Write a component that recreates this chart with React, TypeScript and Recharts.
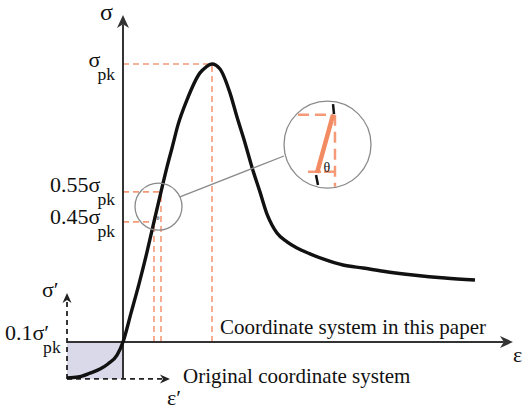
import React from 'react';
import {
  ComposedChart,
  Line,
  XAxis,
  YAxis,
  ReferenceLine,
  ReferenceDot,
  ReferenceArea,
} from 'recharts';

// strain / peak strain, stress / peak stress
const strain = [
  -0.629, -0.506, -0.371, -0.258, -0.169, -0.067, 0, 0.09, 0.18, 0.27, 0.348, 0.427,
  0.494, 0.551, 0.618, 0.719, 0.865, 0.933, 1.0, 1.09, 1.202, 1.281, 1.371, 1.449,
  1.539, 1.618, 1.674, 1.73, 1.843, 1.955, 2.101, 2.247, 2.472, 2.697, 2.978, 3.258,
  3.618, 3.955,
];
const stress = [
  -0.129, -0.126, -0.112, -0.097, -0.079, -0.047, 0, 0.104, 0.209, 0.324, 0.432, 0.54,
  0.629, 0.698, 0.781, 0.871, 0.968, 0.989, 1.0, 0.982, 0.896, 0.809, 0.716, 0.629,
  0.54, 0.46, 0.421, 0.392, 0.36, 0.338, 0.317, 0.299, 0.277, 0.266, 0.252, 0.241,
  0.23, 0.223,
];

// key levels
const peakStrain = 1;
const peakStress = 1;
const upperLevel = 0.54; // 0.55 sigma_pk
const lowerLevel = 0.432; // 0.45 sigma_pk
const upperStrain = 0.427;
const lowerStrain = 0.348;
const oldOrigin = { strain: -0.629, stress: -0.133 };

const labels = [
  { x: -0.258, y: 1.158, main: 'σ', size: 24, anchor: 'start' },
  { x: -0.09, y: 0.989, main: 'σ', sub: 'pk', size: 22, anchor: 'end' },
  { x: -0.09, y: 0.54, main: '0.55σ', sub: 'pk', size: 22, anchor: 'end' },
  { x: -0.09, y: 0.424, main: '0.45σ', sub: 'pk', size: 22, anchor: 'end' },
  { x: -0.7, y: 0.007, main: '0.1σ′', sub: 'pk', size: 22, anchor: 'end' },
  { x: -0.91, y: 0.162, main: 'σ′', size: 22, anchor: 'start' },
  { x: 4.382, y: -0.072, main: 'ε', size: 22, anchor: 'start' },
  { x: 0.494, y: -0.227, main: 'ε′', size: 22, anchor: 'start' },
  { x: 1.09, y: 0.029, main: 'Coordinate system in this paper', size: 21, anchor: 'start' },
  { x: 0.674, y: -0.147, main: 'Original coordinate system', size: 21, anchor: 'start' },
  { x: 2.292, y: 0.612, main: 'θ', size: 14, anchor: 'middle' },
  { x: 0.393, y: 0.439, main: 'θ', size: 6, anchor: 'middle' },
];

const curve = strain.map((e, i) => ({ strain: e, stress: stress[i] }));

const FONT = '"Liberation Serif", "Times New Roman", serif';
const ORANGE = '#f59a78';
const ORANGE_SOLID = '#f28a62';
const AXIS = '#333';

const arrow = (color: string, width: number, dash: string | undefined, len: number, half: number) =>
  (p: any) => {
    const { x1, y1, x2, y2 } = p;
    if (x1 == null || y1 == null) return <g />;
    const dx = x2 - x1;
    const dy = y2 - y1;
    const d = Math.hypot(dx, dy) || 1;
    const ux = dx / d;
    const uy = dy / d;
    const bx = x2 - ux * len;
    const by = y2 - uy * len;
    const nx = x2 - ux * len * 0.7;
    const ny = y2 - uy * len * 0.7;
    const pts = `${x2},${y2} ${bx - uy * half},${by + ux * half} ${nx},${ny} ${bx + uy * half},${by - ux * half}`;
    return (
      <g>
        <line x1={x1} y1={y1} x2={nx} y2={ny} stroke={color} strokeWidth={width} strokeDasharray={dash} />
        <polygon points={pts} fill={color} />
      </g>
    );
  };

const textShape = (l: any) => (p: any) => (
  <text
    x={p.cx}
    y={p.cy}
    textAnchor={l.anchor}
    fontSize={l.size}
    fontFamily={FONT}
    fill="#111"
  >
    {l.main}
    {l.sub && (
      <tspan dx={l.main.endsWith('′') ? -6 : -3} dy={l.size * 0.58} fontSize={l.size * 0.8}>
        {l.sub}
      </tspan>
    )}
  </text>
);

export default function App() {
  return (
    <div style={{ position: 'absolute', left: 0, top: 0, width: 529, height: 410, background: '#fff' }}>
      <ComposedChart width={529} height={410} data={curve} margin={{ top: 0, right: 0, bottom: 0, left: 0 }}>
        <XAxis dataKey="strain" type="number" domain={[-1.382, 4.562]} allowDataOverflow hide />
        <YAxis type="number" domain={[-0.2446, 1.2302]} allowDataOverflow hide />

        {/* original coordinate system box */}
        <ReferenceArea
          x1={oldOrigin.strain}
          x2={0}
          y1={oldOrigin.stress}
          y2={0}
          fill="#d9d9ea"
          fillOpacity={1}
          stroke="none"
        />

        {/* peak guides */}
        <ReferenceLine segment={[{ x: 0, y: peakStress }, { x: peakStrain, y: peakStress }]} stroke={ORANGE} strokeWidth={1.6} strokeDasharray="6 4" />
        <ReferenceLine segment={[{ x: peakStrain, y: 0 }, { x: peakStrain, y: peakStress }]} stroke={ORANGE} strokeWidth={1.6} strokeDasharray="6 4" />
        <ReferenceLine segment={[{ x: 0, y: upperLevel }, { x: upperStrain, y: upperLevel }]} stroke={ORANGE} strokeWidth={1.6} strokeDasharray="6 4" />
        <ReferenceLine segment={[{ x: 0, y: lowerLevel }, { x: lowerStrain, y: lowerLevel }]} stroke={ORANGE} strokeWidth={1.6} strokeDasharray="6 4" />
        <ReferenceLine segment={[{ x: upperStrain, y: 0 }, { x: upperStrain, y: upperLevel }]} stroke={ORANGE} strokeWidth={1.6} strokeDasharray="6 4" />
        <ReferenceLine segment={[{ x: lowerStrain, y: 0 }, { x: lowerStrain, y: lowerLevel }]} stroke={ORANGE} strokeWidth={1.6} strokeDasharray="6 4" />
        <ReferenceLine segment={[{ x: lowerStrain, y: lowerLevel }, { x: upperStrain, y: upperLevel }]} stroke={ORANGE_SOLID} strokeWidth={2.5} />

        {/* axes */}
        <ReferenceLine
          segment={[{ x: 0, y: oldOrigin.stress }, { x: 0, y: 1.176 }]}
          shape={arrow(AXIS, 2, undefined, 13, 6)}
        />
        <ReferenceLine
          segment={[{ x: oldOrigin.strain, y: 0 }, { x: 4.382, y: 0 }]}
          shape={arrow(AXIS, 2, undefined, 13, 6)}
        />
        <ReferenceLine
          segment={[{ x: oldOrigin.strain, y: oldOrigin.stress }, { x: oldOrigin.strain, y: 0.176 }]}
          shape={arrow('#222', 1.8, '5 4', 10, 4.5)}
        />
        <ReferenceLine
          segment={[{ x: oldOrigin.strain, y: oldOrigin.stress }, { x: 0.528, y: oldOrigin.stress }]}
          shape={arrow('#222', 1.8, '5 4', 10, 4.5)}
        />

        <Line
          dataKey="stress"
          type="monotone"
          stroke="#111"
          strokeWidth={3.4}
          dot={false}
          activeDot={false}
          isAnimationActive={false}
        />

        {/* zoom circles */}
        <ReferenceLine segment={[{ x: 0.64, y: 0.522 }, { x: 1.809, y: 0.669 }]} stroke="#8a8a8a" strokeWidth={1.3} />
        <ReferenceDot x={0.399} y={0.487} r={23.5} fill="none" stroke="#8a8a8a" strokeWidth={1.3} />
        <ReferenceDot x={2.298} y={0.71} r={43.5} fill="none" stroke="#8a8a8a" strokeWidth={1.3} />

        {/* magnified detail */}
        <ReferenceLine segment={[{ x: 1.966, y: 0.817 }, { x: 2.36, y: 0.817 }]} stroke={ORANGE} strokeWidth={2.5} strokeDasharray="11 6" />
        <ReferenceLine segment={[{ x: 2.382, y: 0.817 }, { x: 2.382, y: 0.558 }]} stroke={ORANGE} strokeWidth={2.5} strokeDasharray="11 6" />
        <ReferenceLine segment={[{ x: 2.079, y: 0.612 }, { x: 2.382, y: 0.612 }]} stroke={ORANGE} strokeWidth={2.5} strokeDasharray="13 3" />
        <ReferenceLine segment={[{ x: 2.18, y: 0.608 }, { x: 2.36, y: 0.817 }]} stroke={ORANGE_SOLID} strokeWidth={4.5} />
        <ReferenceLine segment={[{ x: 2.36, y: 0.856 }, { x: 2.371, y: 0.82 }]} stroke="#111" strokeWidth={2.5} />
        <ReferenceLine segment={[{ x: 2.169, y: 0.601 }, { x: 2.191, y: 0.565 }]} stroke="#111" strokeWidth={2.5} />

        {labels.map((l, i) => (
          <ReferenceDot key={i} x={l.x} y={l.y} r={0} shape={textShape(l)} />
        ))}
      </ComposedChart>
    </div>
  );
}
